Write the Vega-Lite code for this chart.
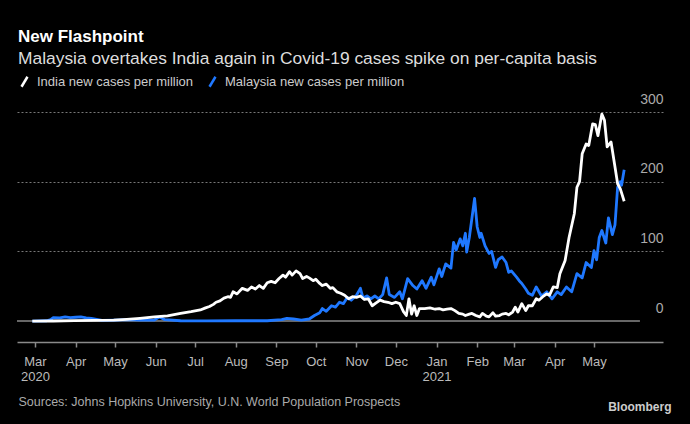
{
"$schema": "https://vega.github.io/schema/vega-lite/v6.json",
"width": 646, "height": 230,
"autosize": {"type": "none"},
"padding": {"left": 17, "top": 112, "right": 27, "bottom": 82},
"background": "#000000",
"config": {"view": {"stroke": null}, "font": "Liberation Sans"},
"title": {"text": "New Flashpoint", "subtitle": "Malaysia overtakes India again in Covid-19 cases spike on per-capita basis", "anchor": "start", "frame": "group", "dx": 1, "fontSize": 17, "fontWeight": "bold", "color": "#ffffff", "subtitleFontSize": 17.4, "subtitleColor": "#dddddd", "subtitlePadding": 4, "offset": 7, "font": "Liberation Sans", "subtitleFont": "Liberation Sans"},
"datasets": {
"baseline": [{"date": "2020-02-10", "date2": "2021-06-05", "value": 0}],
"series": [
{"country":"India","date":"2020-02-28","value":0},
{"country":"India","date":"2020-03-15","value":0.1},
{"country":"India","date":"2020-03-31","value":0.8},
{"country":"India","date":"2020-04-15","value":0.9},
{"country":"India","date":"2020-04-30","value":1.4},
{"country":"India","date":"2020-05-10","value":2.5},
{"country":"India","date":"2020-05-20","value":4},
{"country":"India","date":"2020-05-31","value":6},
{"country":"India","date":"2020-06-10","value":7.5},
{"country":"India","date":"2020-06-20","value":11},
{"country":"India","date":"2020-06-28","value":13.5},
{"country":"India","date":"2020-07-05","value":16},
{"country":"India","date":"2020-07-09","value":19},
{"country":"India","date":"2020-07-12","value":21},
{"country":"India","date":"2020-07-15","value":24},
{"country":"India","date":"2020-07-17","value":27},
{"country":"India","date":"2020-07-20","value":29},
{"country":"India","date":"2020-07-23","value":33},
{"country":"India","date":"2020-07-26","value":35},
{"country":"India","date":"2020-07-28","value":34},
{"country":"India","date":"2020-07-30","value":42},
{"country":"India","date":"2020-08-02","value":39},
{"country":"India","date":"2020-08-06","value":47},
{"country":"India","date":"2020-08-10","value":44},
{"country":"India","date":"2020-08-13","value":49},
{"country":"India","date":"2020-08-16","value":46},
{"country":"India","date":"2020-08-19","value":51},
{"country":"India","date":"2020-08-22","value":47},
{"country":"India","date":"2020-08-25","value":55},
{"country":"India","date":"2020-08-28","value":57},
{"country":"India","date":"2020-08-31","value":55},
{"country":"India","date":"2020-09-03","value":61},
{"country":"India","date":"2020-09-06","value":66},
{"country":"India","date":"2020-09-08","value":63},
{"country":"India","date":"2020-09-11","value":71},
{"country":"India","date":"2020-09-13","value":66},
{"country":"India","date":"2020-09-16","value":72},
{"country":"India","date":"2020-09-19","value":68},
{"country":"India","date":"2020-09-21","value":61},
{"country":"India","date":"2020-09-24","value":64},
{"country":"India","date":"2020-09-26","value":62},
{"country":"India","date":"2020-09-29","value":58},
{"country":"India","date":"2020-10-01","value":60},
{"country":"India","date":"2020-10-04","value":54},
{"country":"India","date":"2020-10-06","value":51},
{"country":"India","date":"2020-10-09","value":53},
{"country":"India","date":"2020-10-12","value":47},
{"country":"India","date":"2020-10-14","value":48},
{"country":"India","date":"2020-10-17","value":42},
{"country":"India","date":"2020-10-20","value":40},
{"country":"India","date":"2020-10-23","value":37},
{"country":"India","date":"2020-10-26","value":32},
{"country":"India","date":"2020-10-29","value":35},
{"country":"India","date":"2020-11-01","value":34},
{"country":"India","date":"2020-11-04","value":36},
{"country":"India","date":"2020-11-07","value":31},
{"country":"India","date":"2020-11-10","value":32},
{"country":"India","date":"2020-11-13","value":22},
{"country":"India","date":"2020-11-16","value":26},
{"country":"India","date":"2020-11-19","value":30},
{"country":"India","date":"2020-11-22","value":28},
{"country":"India","date":"2020-11-25","value":27},
{"country":"India","date":"2020-11-28","value":25},
{"country":"India","date":"2020-12-01","value":27},
{"country":"India","date":"2020-12-04","value":25},
{"country":"India","date":"2020-12-07","value":13},
{"country":"India","date":"2020-12-09","value":8},
{"country":"India","date":"2020-12-11","value":32},
{"country":"India","date":"2020-12-13","value":10},
{"country":"India","date":"2020-12-15","value":22},
{"country":"India","date":"2020-12-17","value":8},
{"country":"India","date":"2020-12-19","value":18},
{"country":"India","date":"2020-12-23","value":18},
{"country":"India","date":"2020-12-27","value":19},
{"country":"India","date":"2020-12-31","value":17},
{"country":"India","date":"2021-01-03","value":18},
{"country":"India","date":"2021-01-06","value":16},
{"country":"India","date":"2021-01-09","value":17},
{"country":"India","date":"2021-01-12","value":18},
{"country":"India","date":"2021-01-15","value":15},
{"country":"India","date":"2021-01-18","value":11},
{"country":"India","date":"2021-01-21","value":10},
{"country":"India","date":"2021-01-23","value":8},
{"country":"India","date":"2021-01-26","value":10},
{"country":"India","date":"2021-01-28","value":11},
{"country":"India","date":"2021-01-31","value":8},
{"country":"India","date":"2021-02-03","value":6},
{"country":"India","date":"2021-02-05","value":11},
{"country":"India","date":"2021-02-08","value":7},
{"country":"India","date":"2021-02-10","value":6},
{"country":"India","date":"2021-02-13","value":12},
{"country":"India","date":"2021-02-15","value":7},
{"country":"India","date":"2021-02-18","value":8},
{"country":"India","date":"2021-02-20","value":10},
{"country":"India","date":"2021-02-23","value":11},
{"country":"India","date":"2021-02-25","value":9},
{"country":"India","date":"2021-02-28","value":13},
{"country":"India","date":"2021-03-02","value":20},
{"country":"India","date":"2021-03-04","value":13},
{"country":"India","date":"2021-03-07","value":25},
{"country":"India","date":"2021-03-10","value":15},
{"country":"India","date":"2021-03-12","value":22},
{"country":"India","date":"2021-03-15","value":22},
{"country":"India","date":"2021-03-18","value":32},
{"country":"India","date":"2021-03-20","value":30},
{"country":"India","date":"2021-03-23","value":35},
{"country":"India","date":"2021-03-26","value":39},
{"country":"India","date":"2021-03-28","value":37},
{"country":"India","date":"2021-03-31","value":49},
{"country":"India","date":"2021-04-03","value":48},
{"country":"India","date":"2021-04-05","value":68},
{"country":"India","date":"2021-04-09","value":87},
{"country":"India","date":"2021-04-12","value":120},
{"country":"India","date":"2021-04-16","value":154},
{"country":"India","date":"2021-04-18","value":192},
{"country":"India","date":"2021-04-20","value":200},
{"country":"India","date":"2021-04-22","value":240},
{"country":"India","date":"2021-04-25","value":254},
{"country":"India","date":"2021-04-27","value":252},
{"country":"India","date":"2021-04-30","value":283},
{"country":"India","date":"2021-05-02","value":282},
{"country":"India","date":"2021-05-04","value":266},
{"country":"India","date":"2021-05-07","value":297},
{"country":"India","date":"2021-05-09","value":288},
{"country":"India","date":"2021-05-11","value":250},
{"country":"India","date":"2021-05-14","value":257},
{"country":"India","date":"2021-05-17","value":221},
{"country":"India","date":"2021-05-19","value":197},
{"country":"India","date":"2021-05-21","value":190},
{"country":"India","date":"2021-05-24","value":172},
{"country":"Malaysia","date":"2020-02-28","value":0},
{"country":"Malaysia","date":"2020-03-10","value":0.5},
{"country":"Malaysia","date":"2020-03-13","value":2},
{"country":"Malaysia","date":"2020-03-15","value":5},
{"country":"Malaysia","date":"2020-03-20","value":4.5},
{"country":"Malaysia","date":"2020-03-24","value":6},
{"country":"Malaysia","date":"2020-03-28","value":5},
{"country":"Malaysia","date":"2020-04-01","value":5.5},
{"country":"Malaysia","date":"2020-04-05","value":6},
{"country":"Malaysia","date":"2020-04-09","value":4.5},
{"country":"Malaysia","date":"2020-04-13","value":4},
{"country":"Malaysia","date":"2020-04-17","value":2.5},
{"country":"Malaysia","date":"2020-04-21","value":1},
{"country":"Malaysia","date":"2020-05-01","value":1.5},
{"country":"Malaysia","date":"2020-05-10","value":2},
{"country":"Malaysia","date":"2020-05-20","value":1.5},
{"country":"Malaysia","date":"2020-05-31","value":1.5},
{"country":"Malaysia","date":"2020-06-04","value":6},
{"country":"Malaysia","date":"2020-06-08","value":2},
{"country":"Malaysia","date":"2020-06-20","value":0.5},
{"country":"Malaysia","date":"2020-07-10","value":0.3},
{"country":"Malaysia","date":"2020-08-01","value":0.5},
{"country":"Malaysia","date":"2020-08-25","value":0.5},
{"country":"Malaysia","date":"2020-09-05","value":2},
{"country":"Malaysia","date":"2020-09-09","value":4},
{"country":"Malaysia","date":"2020-09-14","value":3},
{"country":"Malaysia","date":"2020-09-20","value":1.5},
{"country":"Malaysia","date":"2020-09-26","value":3},
{"country":"Malaysia","date":"2020-09-30","value":8},
{"country":"Malaysia","date":"2020-10-04","value":12},
{"country":"Malaysia","date":"2020-10-06","value":18},
{"country":"Malaysia","date":"2020-10-09","value":14},
{"country":"Malaysia","date":"2020-10-13","value":22},
{"country":"Malaysia","date":"2020-10-16","value":20},
{"country":"Malaysia","date":"2020-10-19","value":27},
{"country":"Malaysia","date":"2020-10-22","value":25},
{"country":"Malaysia","date":"2020-10-25","value":34},
{"country":"Malaysia","date":"2020-10-28","value":30},
{"country":"Malaysia","date":"2020-11-01","value":37},
{"country":"Malaysia","date":"2020-11-04","value":47},
{"country":"Malaysia","date":"2020-11-06","value":33},
{"country":"Malaysia","date":"2020-11-09","value":36},
{"country":"Malaysia","date":"2020-11-12","value":32},
{"country":"Malaysia","date":"2020-11-15","value":36},
{"country":"Malaysia","date":"2020-11-18","value":32},
{"country":"Malaysia","date":"2020-11-21","value":38},
{"country":"Malaysia","date":"2020-11-24","value":62},
{"country":"Malaysia","date":"2020-11-26","value":38},
{"country":"Malaysia","date":"2020-11-30","value":34},
{"country":"Malaysia","date":"2020-12-04","value":42},
{"country":"Malaysia","date":"2020-12-06","value":32},
{"country":"Malaysia","date":"2020-12-10","value":61},
{"country":"Malaysia","date":"2020-12-14","value":51},
{"country":"Malaysia","date":"2020-12-17","value":46},
{"country":"Malaysia","date":"2020-12-21","value":58},
{"country":"Malaysia","date":"2020-12-24","value":47},
{"country":"Malaysia","date":"2020-12-28","value":63},
{"country":"Malaysia","date":"2020-12-30","value":52},
{"country":"Malaysia","date":"2021-01-03","value":75},
{"country":"Malaysia","date":"2021-01-05","value":64},
{"country":"Malaysia","date":"2021-01-08","value":82},
{"country":"Malaysia","date":"2021-01-12","value":76},
{"country":"Malaysia","date":"2021-01-14","value":113},
{"country":"Malaysia","date":"2021-01-16","value":102},
{"country":"Malaysia","date":"2021-01-19","value":118},
{"country":"Malaysia","date":"2021-01-21","value":108},
{"country":"Malaysia","date":"2021-01-23","value":126},
{"country":"Malaysia","date":"2021-01-24","value":99},
{"country":"Malaysia","date":"2021-01-26","value":120},
{"country":"Malaysia","date":"2021-01-28","value":148},
{"country":"Malaysia","date":"2021-01-30","value":176},
{"country":"Malaysia","date":"2021-02-01","value":135},
{"country":"Malaysia","date":"2021-02-03","value":120},
{"country":"Malaysia","date":"2021-02-04","value":126},
{"country":"Malaysia","date":"2021-02-07","value":108},
{"country":"Malaysia","date":"2021-02-10","value":97},
{"country":"Malaysia","date":"2021-02-12","value":100},
{"country":"Malaysia","date":"2021-02-15","value":77},
{"country":"Malaysia","date":"2021-02-17","value":88},
{"country":"Malaysia","date":"2021-02-20","value":92},
{"country":"Malaysia","date":"2021-02-23","value":84},
{"country":"Malaysia","date":"2021-02-25","value":70},
{"country":"Malaysia","date":"2021-02-27","value":72},
{"country":"Malaysia","date":"2021-03-03","value":63},
{"country":"Malaysia","date":"2021-03-05","value":58},
{"country":"Malaysia","date":"2021-03-07","value":54},
{"country":"Malaysia","date":"2021-03-10","value":46},
{"country":"Malaysia","date":"2021-03-12","value":40},
{"country":"Malaysia","date":"2021-03-15","value":37},
{"country":"Malaysia","date":"2021-03-18","value":49},
{"country":"Malaysia","date":"2021-03-22","value":36},
{"country":"Malaysia","date":"2021-03-26","value":42},
{"country":"Malaysia","date":"2021-03-30","value":32},
{"country":"Malaysia","date":"2021-04-03","value":42},
{"country":"Malaysia","date":"2021-04-06","value":38},
{"country":"Malaysia","date":"2021-04-10","value":49},
{"country":"Malaysia","date":"2021-04-14","value":42},
{"country":"Malaysia","date":"2021-04-18","value":68},
{"country":"Malaysia","date":"2021-04-22","value":62},
{"country":"Malaysia","date":"2021-04-25","value":84},
{"country":"Malaysia","date":"2021-04-29","value":77},
{"country":"Malaysia","date":"2021-05-01","value":101},
{"country":"Malaysia","date":"2021-05-03","value":88},
{"country":"Malaysia","date":"2021-05-05","value":120},
{"country":"Malaysia","date":"2021-05-07","value":130},
{"country":"Malaysia","date":"2021-05-10","value":112},
{"country":"Malaysia","date":"2021-05-12","value":148},
{"country":"Malaysia","date":"2021-05-15","value":124},
{"country":"Malaysia","date":"2021-05-17","value":138},
{"country":"Malaysia","date":"2021-05-19","value":192},
{"country":"Malaysia","date":"2021-05-21","value":200},
{"country":"Malaysia","date":"2021-05-22","value":195},
{"country":"Malaysia","date":"2021-05-24","value":217}
]},
"encoding": {
  "x": {"field": "date", "type": "temporal",
    "scale": {"domain": [{"year": 2020, "month": 2, "date": 16, "hours": 8}, {"year": 2021, "month": 6, "date": 22, "hours": 14}], "nice": false},
    "axis": {
      "values": [{"year":2020,"month":3,"date":1},{"year":2020,"month":4,"date":1},{"year":2020,"month":5,"date":1},{"year":2020,"month":6,"date":1},{"year":2020,"month":7,"date":1},{"year":2020,"month":8,"date":1},{"year":2020,"month":9,"date":1},{"year":2020,"month":10,"date":1},{"year":2020,"month":11,"date":1},{"year":2020,"month":12,"date":1},{"year":2021,"month":1,"date":1},{"year":2021,"month":2,"date":1},{"year":2021,"month":3,"date":1},{"year":2021,"month":4,"date":1},{"year":2021,"month":5,"date":1}],
      "labelExpr": "(month(datum.value) == 0 || (year(datum.value) == 2020 && month(datum.value) == 2)) ? [timeFormat(datum.value, '%b'), timeFormat(datum.value, '%Y')] : timeFormat(datum.value, '%b')",
      "grid": false,
      "domainColor": "#8a8a8a", "domainWidth": 1.5,
      "tickColor": "#8a8a8a", "tickSize": 5, "tickWidth": 1.5,
      "labelColor": "#bbbbbb", "labelFontSize": 13, "labelPadding": 8, "labelLineHeight": 15, "labelBaseline": "top", "labelAlign": "center", "labelFlush": false, "labelOverlap": false,
      "title": "Sources: Johns Hopkins University, U.N. World Population Prospects",
      "titleX": 1, "titleY": 59, "titleAlign": "left", "titleAnchor": "start", "titleBaseline": "middle",
      "titleFontSize": 12.5, "titleFontWeight": "normal", "titleColor": "#aaaaaa"
    }},
  "y": {"field": "value", "type": "quantitative",
    "scale": {"domain": [-30, 300], "nice": false, "zero": false},
    "axis": {
      "orient": "right", "values": [0, 100, 200, 300],
      "grid": true, "gridDash": [2, 2], "gridColor": "#777777", "gridWidth": 1,
      "gridOpacity": {"condition": {"test": "datum.value === 0", "value": 0}, "value": 1},
      "domain": false, "ticks": false, "tickSize": 0, "labelPadding": 0,
      "labelAlign": "right", "labelBaseline": "middle", "labelOffset": -13,
      "labelColor": "#aaaaaa", "labelFontSize": 14,
      "title": "Bloomberg", "titleAngle": 0, "titleX": 8, "titleY": 294, "titleAlign": "right", "titleBaseline": "middle",
      "titleFontSize": 12, "titleFontWeight": "bold", "titleColor": "#cccccc"
    }}
},
"layer": [
  {"data": {"name": "baseline"},
   "mark": {"type": "rule", "color": "#8a8a8a", "strokeWidth": 1.5, "clip": true},
   "encoding": {"x2": {"field": "date2"}}},
  {"data": {"name": "series"},
   "transform": [{"filter": "datum.country === 'Malaysia'"}],
   "mark": {"type": "line", "strokeWidth": 2.8, "strokeJoin": "round"},
   "encoding": {"color": {"field": "country", "type": "nominal",
     "scale": {"domain": ["India", "Malaysia"], "range": ["#ffffff", "#1f78ff"]},
     "legend": {"orient": "none", "legendX": 1, "legendY": -37, "direction": "horizontal", "title": null,
       "symbolType": "M-0.6,1L0.6,-1", "symbolStrokeWidth": 2.5, "symbolSize": 100,
       "labelFontSize": 13, "labelColor": "#cccccc", "labelLimit": 400, "labelExpr": "datum.label + ' new cases per million'",
       "columnPadding": 10, "labelOffset": 6, "padding": 0}}}},
  {"data": {"name": "series"},
   "transform": [{"filter": "datum.country === 'India'"}],
   "mark": {"type": "line", "strokeWidth": 2.8, "strokeJoin": "round"},
   "encoding": {"color": {"field": "country", "type": "nominal"}}}
]
}
